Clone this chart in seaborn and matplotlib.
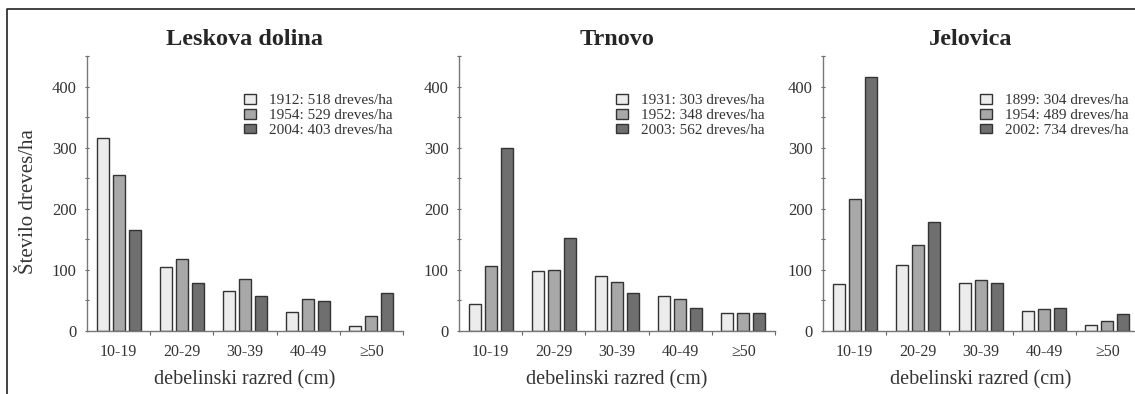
import matplotlib
matplotlib.use("Agg")
import matplotlib.pyplot as plt
from matplotlib.lines import Line2D
from matplotlib.ticker import MultipleLocator, FixedLocator
import seaborn as sns
import pandas as pd

# podatki
razredi = ["10-19", "20-29", "30-39", "40-49", "≥50"]

naslovi = ["Leskova dolina", "Trnovo", "Jelovica"]

leta_leskova = ["1912: 518 dreves/ha", "1954: 529 dreves/ha", "2004: 403 dreves/ha"]
leskova_1912 = [315, 104, 66, 31, 9]
leskova_1954 = [255, 118, 85, 52, 24]
leskova_2004 = [165, 79, 57, 49, 62]

leta_trnovo = ["1931: 303 dreves/ha", "1952: 348 dreves/ha", "2003: 562 dreves/ha"]
trnovo_1931 = [45, 99, 90, 58, 29]
trnovo_1952 = [106, 100, 81, 52, 30]
trnovo_2003 = [299, 152, 62, 38, 30]

leta_jelovica = ["1899: 304 dreves/ha", "1954: 489 dreves/ha", "2002: 734 dreves/ha"]
jelovica_1899 = [77, 108, 79, 33, 10]
jelovica_1954 = [216, 140, 84, 36, 16]
jelovica_2002 = [416, 179, 78, 37, 28]

barve = ["#ececec", "#a8a8a8", "#6f6f6f"]


def naredi_df(leta, serije):
    vrstice = []
    for leto, vrednosti in zip(leta, serije):
        for r, v in zip(razredi, vrednosti):
            vrstice.append({"razred": r, "leto": leto, "stevilo": v})
    return pd.DataFrame(vrstice)


paneli = [
    naredi_df(leta_leskova, [leskova_1912, leskova_1954, leskova_2004]),
    naredi_df(leta_trnovo, [trnovo_1931, trnovo_1952, trnovo_2003]),
    naredi_df(leta_jelovica, [jelovica_1899, jelovica_1954, jelovica_2002]),
]

sns.set_style("white")
plt.rcParams["font.family"] = ["Liberation Serif", "DejaVu Serif"]

W, H = 1135, 394
fig = plt.figure(figsize=(W / 100, H / 100), dpi=100)

levi_robovi = [87, 459, 823]
sirina = 316
spodaj, zgoraj = 331, 56
title_x = [0.5, 0.5, 0.467]

for i, (df, naslov) in enumerate(zip(paneli, naslovi)):
    ax = fig.add_axes([levi_robovi[i] / W, 1 - spodaj / H, sirina / W, (spodaj - zgoraj) / H])
    sns.barplot(data=df, x="razred", y="stevilo", hue="leto", palette=barve,
                width=0.76, gap=0.25, edgecolor="#333333", linewidth=1.0,
                saturation=1, ax=ax)
    ax.set_xlim(-0.5, 4.5)
    ax.set_ylim(0, 450)
    ax.yaxis.set_major_locator(FixedLocator([0, 100, 200, 300, 400]))
    ax.yaxis.set_minor_locator(MultipleLocator(50))
    ax.xaxis.set_minor_locator(FixedLocator([0.5, 1.5, 2.5, 3.5, 4.5]))
    ax.tick_params(axis="y", which="both", direction="inout", length=3, width=0.8,
                   color="#666666", labelsize=12, labelcolor="#333333", pad=6, left=True)
    ax.tick_params(axis="x", which="major", length=0, labelsize=11.5,
                   labelcolor="#333333", pad=9)
    ax.tick_params(axis="x", which="minor", direction="out", length=3, width=0.8,
                   color="#666666", bottom=True)
    sns.despine(ax=ax)
    for s in ["left", "bottom"]:
        ax.spines[s].set_color("#777777")
        ax.spines[s].set_linewidth(1.0)
    ax.set_title(naslov, fontsize=17.5, fontweight="bold", pad=8, x=title_x[i])
    ax.set_xlabel("debelinski razred (cm)", fontsize=14.5, color="#333333")
    ax.xaxis.set_label_coords(0.5, -0.142)
    if i == 0:
        ax.set_ylabel("Število dreves/ha", fontsize=15, color="#333333")
        ax.yaxis.set_label_coords(-0.155, 0.47)
    else:
        ax.set_ylabel("")
    ax.legend(loc="upper right", bbox_to_anchor=(1.0, 0.9), frameon=False,
              fontsize=11, handlelength=0.8, handleheight=0.6,
              handletextpad=0.8, labelspacing=0.1, borderaxespad=0.3,
              labelcolor="#333333")

# okvir
fig.add_artist(Line2D([7 / W, 7 / W, 1], [0, 1 - 9 / H, 1 - 9 / H],
                      transform=fig.transFigure, color="#222222", lw=1.2))

fig.savefig("out.png", dpi=100)
